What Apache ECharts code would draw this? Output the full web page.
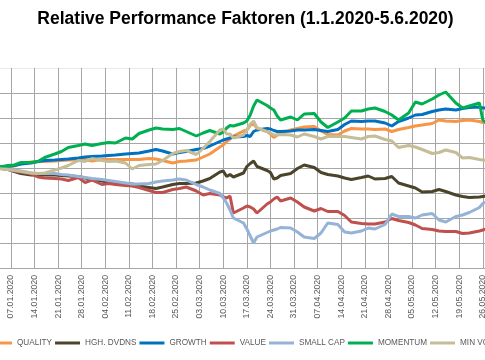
<!DOCTYPE html>
<html>
<head>
<meta charset="utf-8">
<script src="https://cdn.jsdelivr.net/npm/echarts@6/dist/echarts.min.js"></script>
<style>
html,body{margin:0;padding:0;width:485px;height:360px;overflow:hidden;background:#fff;}
#c{position:absolute;left:-30px;top:0;width:551px;height:360px;}
</style>
</head>
<body>
<div id="c"></div>
<script>
const dates = [
'2020-01-02','2020-01-03','2020-01-06','2020-01-08','2020-01-10',
'2020-01-13','2020-01-15','2020-01-17','2020-01-20','2020-01-22','2020-01-24',
'2020-01-27','2020-01-29','2020-01-31','2020-02-03','2020-02-05','2020-02-07',
'2020-02-10','2020-02-12','2020-02-14','2020-02-17','2020-02-19','2020-02-21',
'2020-02-24','2020-02-26','2020-02-28','2020-03-02','2020-03-04','2020-03-06',
'2020-03-09','2020-03-10','2020-03-11','2020-03-12','2020-03-13',
'2020-03-16','2020-03-17','2020-03-18','2020-03-19','2020-03-20',
'2020-03-23','2020-03-24','2020-03-25','2020-03-26','2020-03-27',
'2020-03-30','2020-04-01','2020-04-03','2020-04-06','2020-04-08','2020-04-10',
'2020-04-13','2020-04-15','2020-04-17','2020-04-20','2020-04-22','2020-04-24',
'2020-04-27','2020-04-29','2020-05-01','2020-05-04','2020-05-06','2020-05-08',
'2020-05-11','2020-05-13','2020-05-15','2020-05-18','2020-05-20','2020-05-22',
'2020-05-25','2020-05-26','2020-05-27','2020-05-29','2020-06-01','2020-06-03','2020-06-05'];

const quality = [0,0.1,0.2,0.4,0.9, 1.2,1.3,1.3,1.4,1.5,1.6, 1.6,1.7,1.4,1.7,1.7,1.7,
 1.7,1.7,1.7,1.9,1.8,1.5, 1.0,1.3,1.4,1.6,2.2,2.8, 4.2,4.6,5.3,5.8,6.4,
 7.4,7.6,8.5,8.8,8.0, 7.3,6.8,6.1,6.6,6.9, 7.6,7.9,8.2,8.3,7.4,6.7,
 6.6,7.4,7.9,7.8,7.8,7.7, 7.8,7.3,7.7,8.1,8.4,8.6, 8.9,9.6,9.4,9.3,9.5,9.6,
 9.3,9.1,9.0,9.2,9.1,8.9,9.0];
const hghDvdns = [0,0.0,-0.2,-0.7,-1.1, -1.4,-1.4,-1.4,-1.4,-1.5,-1.6, -1.7,-2.0,-2.3,-2.6,-2.9,-3.1,
 -3.2,-3.2,-3.6,-3.9,-4.1,-3.8, -3.3,-3.1,-3.1,-3.0,-2.6,-2.1, -0.8,-0.6,-1.7,-1.3,-1.8,
 -1.0,0.3,0.9,1.4,0.3, -0.5,-0.9,-2.2,-2.0,-1.5, -1.1,-0.1,0.6,0.1,-0.9,-1.3,
 -1.6,-2.0,-2.3,-1.9,-1.6,-2.2, -2.1,-1.7,-3.0,-3.6,-4.0,-4.8, -4.7,-4.3,-4.7,-5.4,-5.7,-5.9,
 -5.8,-5.7,-5.6,-5.8,-5.5,-5.7,-5.6];
const growth = [0,0.2,0.3,0.5,0.8, 1.0,1.3,1.5,1.6,1.7,1.8, 2.0,2.2,2.3,2.4,2.5,2.6,
 2.8,2.9,3.0,3.4,3.7,3.4, 2.8,3.1,3.3,3.7,3.9,4.4, 5.3,5.6,5.8,6.0,6.2,
 6.3,6.5,6.3,7.3,7.6, 7.9,7.8,7.5,7.3,7.3, 7.4,7.6,7.6,7.7,7.5,7.3,
 7.7,8.7,9.4,9.3,9.4,9.4, 9.0,8.4,9.3,10.0,10.6,10.7, 11.3,11.6,11.8,11.6,11.9,12.1,
 12.2,12.0,12.0,12.3,12.1,12.4,12.2];
const value = [0,0.0,-0.3,-0.6,-0.8, -1.2,-1.8,-2.0,-2.1,-2.2,-2.5, -1.9,-2.9,-2.4,-3.3,-3.1,-3.3,
 -3.5,-3.6,-3.9,-4.5,-4.9,-4.9, -4.3,-4.1,-3.8,-4.6,-5.4,-5.1, -5.4,-5.8,-6.0,-5.6,-9.0,
 -8.0,-7.6,-7.8,-8.2,-9.0, -7.2,-6.8,-6.2,-5.8,-6.6, -6.0,-6.8,-7.8,-8.6,-8.1,-8.7,
 -8.7,-9.5,-10.8,-11.1,-11.2,-11.2, -10.8,-10.1,-10.5,-10.9,-11.4,-12.1, -12.3,-12.6,-12.7,-12.7,-13.1,-13.0,
 -12.6,-12.4,-12.2,-12.5,-12.0,-12.3,-12.1];
const smallCap = [0,0.0,-0.2,-0.4,-0.6, -1.0,-1.1,-1.1,-1.1,-1.3,-1.4, -1.7,-1.9,-2.1,-2.3,-2.5,-2.7,
 -3.0,-3.2,-3.2,-3.1,-2.8,-2.6, -2.4,-2.2,-2.4,-3.3,-3.8,-4.4, -5.1,-6.0,-7.0,-8.4,-10.0,
 -11.0,-12.2,-13.6,-15.0,-13.8, -12.9,-12.6,-12.4,-12.2,-11.9, -12.0,-12.8,-13.8,-14.1,-13.0,-11.0,
 -11.3,-12.8,-13.0,-12.6,-12.0,-12.2, -11.3,-9.2,-9.7,-9.7,-10.0,-9.4, -9.1,-10.4,-10.8,-9.7,-9.4,-8.9,
 -7.9,-7.1,-6.8,-7.0,-6.5,-6.7,-6.4];
const momentum = [0,0.1,0.5,0.6,1.1, 1.1,1.3,2.1,2.8,3.3,4.1, 4.5,4.8,4.5,4.9,5.1,5.0,
 6.0,5.8,6.9,7.6,8.0,7.8, 7.7,7.9,7.3,6.4,7.0,7.5, 6.8,7.2,8.0,8.5,8.4,
 9.0,9.4,10.6,12.4,13.6, 12.5,12.0,11.6,10.4,9.6, 10.2,9.6,10.8,10.9,9.2,8.1,
 9.2,10.0,11.4,11.4,11.8,12.0, 11.3,10.6,9.6,11.0,13.2,12.8, 13.8,14.6,15.2,13.0,12.0,12.4,
 13.0,9.6,9.0,9.8,9.2,9.6,9.5];
const minVol = [0,-0.1,-0.3,-0.5,-0.7, -1.0,-1.1,-1.0,-0.4,0.0,0.5, 1.5,1.3,1.9,1.5,1.3,1.4,
 1.0,-0.2,0.5,0.7,0.8,1.5, 2.9,3.3,3.5,2.7,3.9,5.3, 7.6,7.8,6.8,6.8,6.0,
 6.6,7.6,8.8,9.4,8.0, 7.3,7.0,6.6,6.6,6.7, 6.6,6.2,6.8,6.3,5.8,6.3,
 6.3,6.3,6.1,5.8,6.3,6.4, 5.7,5.4,4.1,4.5,4.2,3.7, 2.9,3.1,3.6,3.1,2.0,2.1,
 1.7,1.6,1.5,1.8,1.6,1.4,1.5];

const seriesNames = ['QUALITY','HGH. DVDNS','GROWTH','VALUE','SMALL CAP','MOMENTUM','MIN VOL'];
const seriesValues = [quality, hghDvdns, growth, value, smallCap, momentum, minVol];
const colors = ['#F79646','#4A452A','#0070C0','#C0504D','#95B3D7','#00B050','#C4BD97'];

const BASE = Date.UTC(2019, 11, 31);
function dayNum(s) {
  const p = s.split('-').map(Number);
  return (Date.UTC(p[0], p[1]-1, p[2]) - BASE) / 86400000;
}
function fmt(v) {
  const d = new Date(BASE + v*86400000);
  const dd = String(d.getUTCDate()).padStart(2,'0');
  const mm = String(d.getUTCMonth()+1).padStart(2,'0');
  return dd + '.' + mm + '.' + d.getUTCFullYear();
}
const xs = dates.map(dayNum);

const chart = echarts.init(document.getElementById('c'), null, {renderer:'canvas'});
const grid = '#A6A6A6';
chart.setOption({
  animation: false,
  color: colors,
  title: {
    text: 'Relative Performance Faktoren (1.1.2020-5.6.2020)',
    left: 'center', top: 5,
    textStyle: {fontFamily:'Liberation Sans', fontWeight:'bold', fontSize:17.5, color:'#000'}
  },
  legend: {
    data: seriesNames,
    left: 12, top: 334,
    icon: 'rect', itemWidth: 25, itemHeight: 3, itemGap: 3,
    textStyle: {fontFamily:'Liberation Sans', fontSize:8.2, color:'#595959'}
  },
  grid: {left: 17.35, top: 68, width: 530.5, height: 200},
  xAxis: {
    type: 'value', min: 0, max: 157, interval: 7,
    axisLine: {show:true, lineStyle:{color:grid, width:1}},
    axisTick: {show:true, length:4, lineStyle:{color:grid}},
    splitLine: {show:true, lineStyle:{color:grid, width:1}},
    axisLabel: {rotate:90, margin:7, formatter: fmt, fontFamily:'Liberation Sans', fontSize:8.7, color:'#595959'}
  },
  yAxis: {
    type: 'value', min: -20, max: 20, interval: 5,
    axisLine: {show:false}, axisTick:{show:false}, axisLabel:{show:false},
    splitLine: {show:true, lineStyle:{color:[grid,grid,grid,grid,grid,grid,grid,grid,'#F2E8E0'], width:1}}
  },
  series: seriesNames.map((n, i) => ({
    name: n, type: 'line', symbol: 'none', smooth: false,
    lineStyle: {width: 3, color: colors[i]},
    itemStyle: {color: colors[i]},
    data: xs.map((x, k) => [x, seriesValues[i][k]])
  }))
});
</script>
</body>
</html>
